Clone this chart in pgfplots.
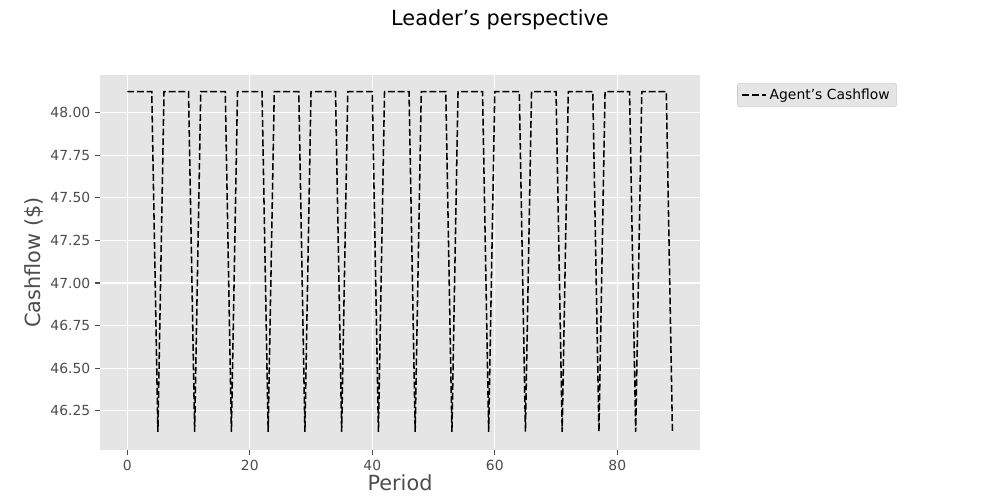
\documentclass[border=0pt]{standalone}
\usepackage{pgfplots}
\pgfplotsset{compat=1.18}
\usepackage{fontspec}
\setmainfont{DejaVu Sans}
\definecolor{bg}{HTML}{E5E5E5}
\definecolor{tk}{HTML}{4D4D4D}
\begin{document}
\begin{tikzpicture}
\path[use as bounding box] (0,0) rectangle (720pt,360pt);
\node at (360pt,346pt) {\fontsize{15}{18}\selectfont Leader's perspective};
\begin{axis}[at={(72pt,36pt)},anchor=south west,scale only axis,width=432pt,height=270pt,
 xmin=-4.45,xmax=93.5,ymin=46.02,ymax=48.22,
 axis background/.style={fill=bg}, axis line style={draw=none},
 grid=major, grid style={white,line width=0.8pt},
 xtick={0,20,40,60,80}, ytick={46.25,46.5,46.75,47,47.25,47.5,47.75,48},
 yticklabel style={/pgf/number format/.cd,fixed,fixed zerofill,precision=2},
 /pgf/number format/assume math mode=true,
 tick label style={font=\fontsize{10}{12}\selectfont,text=tk},
 tick style={tk,line width=0.8pt}, tick align=outside, major tick length=3.5pt,
 xtick pos=bottom, ytick pos=left,
 xlabel={Period}, ylabel={Cashflow (\$)},
 label style={font=\fontsize{15}{18}\selectfont,text=tk},
 xlabel style={yshift=4pt}, ylabel style={yshift=-2pt},
 legend style={at={(1.062,0.979)},anchor=north west,fill=bg,draw=gray!40,font=\fontsize{10}{12}\selectfont,rounded corners=2pt},
 legend cell align=left]
\addplot[black,dashed,line width=1.1pt,dash pattern=on 5pt off 2pt] coordinates {
(0,48.123)(1,48.123)(2,48.123)(3,48.123)(4,48.123)(5,46.127)
(6,48.123)(7,48.123)(8,48.123)(9,48.123)(10,48.123)(11,46.127)
(12,48.123)(13,48.123)(14,48.123)(15,48.123)(16,48.123)(17,46.127)
(18,48.123)(19,48.123)(20,48.123)(21,48.123)(22,48.123)(23,46.127)
(24,48.123)(25,48.123)(26,48.123)(27,48.123)(28,48.123)(29,46.127)
(30,48.123)(31,48.123)(32,48.123)(33,48.123)(34,48.123)(35,46.127)
(36,48.123)(37,48.123)(38,48.123)(39,48.123)(40,48.123)(41,46.127)
(42,48.123)(43,48.123)(44,48.123)(45,48.123)(46,48.123)(47,46.127)
(48,48.123)(49,48.123)(50,48.123)(51,48.123)(52,48.123)(53,46.127)
(54,48.123)(55,48.123)(56,48.123)(57,48.123)(58,48.123)(59,46.127)
(60,48.123)(61,48.123)(62,48.123)(63,48.123)(64,48.123)(65,46.127)
(66,48.123)(67,48.123)(68,48.123)(69,48.123)(70,48.123)(71,46.127)
(72,48.123)(73,48.123)(74,48.123)(75,48.123)(76,48.123)(77,46.127)
(78,48.123)(79,48.123)(80,48.123)(81,48.123)(82,48.123)(83,46.127)
(84,48.123)(85,48.123)(86,48.123)(87,48.123)(88,48.123)(89,46.127)};
\addlegendentry{Agent's Cashflow}
\end{axis}
\end{tikzpicture}
\end{document}
